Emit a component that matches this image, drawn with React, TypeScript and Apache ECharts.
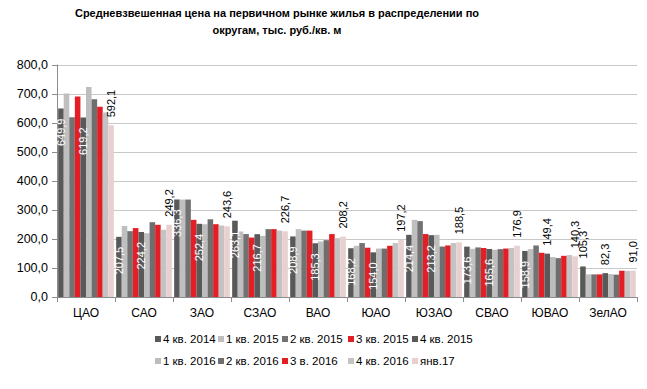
import React, { useEffect, useRef } from "react";
import * as echarts from "echarts";

const categories = ["ЦАО", "САО", "ЗАО", "СЗАО", "ВАО", "ЮАО", "ЮЗАО", "СВАО", "ЮВАО", "ЗелАО"];

const seriesNames = [
  "4 кв. 2014", "1 кв. 2015", "2 кв. 2015", "3 кв. 2015", "4 кв. 2015",
  "1 кв. 2016", "2 кв. 2016", "3 в. 2016", "4 кв. 2016", "янв.17",
];

const q4_2014 = [649.9, 207.5, 336.3, 263.1, 208.9, 168.2, 214.4, 173.6, 158.9, 105.3];
const q1_2015 = [702, 245, 336, 226, 234, 176.6, 266, 166, 165, 78];
const q2_2015 = [620, 227, 336, 217, 229, 186, 261.7, 171, 177.7, 78];
const q3_2015 = [691, 237.6, 266, 205, 229, 170, 217, 169, 152.5, 78];
const q4_2015 = [619.2, 224.2, 252.4, 216.7, 185.3, 154.0, 213.2, 165.6, 149.4, 82.3];
const q1_2016 = [724, 220, 251, 211, 191.5, 167, 214.5, 163, 137.7, 79];
const q2_2016 = [682, 258, 268, 234, 196, 167, 174, 165, 134, 77];
const q3_2016 = [656, 249, 251, 234, 217, 176.6, 177.7, 167, 142, 90.6];
const q4_2016 = [636, 231.7, 246.5, 229, 203, 186, 186, 169, 144.6, 90];
const jan_2017 = [592.1, 249.2, 243.6, 226.7, 208.2, 197.2, 188.5, 176.9, 140.3, 91.0];

const seriesValues = [q4_2014, q1_2015, q2_2015, q3_2015, q4_2015, q1_2016, q2_2016, q3_2016, q4_2016, jan_2017];

const colors = [
  "#595959", "#BFBFBF", "#727272", "#E31E24", "#595959",
  "#BDBDBD", "#6E6E6E", "#E31E24", "#C3C3C3", "#E8D0D0",
];

const yTicks = [0, 100, 200, 300, 400, 500, 600, 700, 800];

const labeledInside = [0, 4];
const labeledOutside = [9];

const FONT = "'Liberation Sans', Arial, sans-serif";
const fmt = (v: number) => v.toFixed(1).replace(".", ",");

const insideLabel = {
  show: true,
  position: "insideTop",
  rotate: 90,
  align: "right",
  verticalAlign: "middle",
  distance: 10,
  color: "#ffffff",
  fontSize: 11,
  fontFamily: FONT,
  formatter: (p: any) => fmt(p.value),
};

const outsideLabel = {
  show: true,
  position: "top",
  rotate: 90,
  align: "left",
  verticalAlign: "middle",
  distance: 8,
  color: "#000000",
  fontSize: 11,
  fontFamily: FONT,
  formatter: (p: any) => fmt(p.value),
};

function buildData(values: number[], idx: number) {
  if (labeledInside.includes(idx)) {
    return values.map((v) => ({ value: v, label: v >= 150 ? insideLabel : outsideLabel }));
  }
  if (labeledOutside.includes(idx)) {
    return values.map((v) => ({ value: v, label: outsideLabel }));
  }
  return values;
}

const colLefts = [155, 218, 282, 348, 412];
const rowTops = [333, 355];

export default function App() {
  const ref = useRef<HTMLDivElement>(null);
  useEffect(() => {
    if (!ref.current) return;
    const chart = echarts.init(ref.current, undefined, { renderer: "svg" });
    const legends = seriesNames.map((name, i) => ({
      data: [name],
      left: colLefts[i % 5],
      top: rowTops[Math.floor(i / 5)],
      padding: 0,
      itemWidth: 6,
      itemHeight: 6,
      itemGap: 0,
      icon: "rect",
      selectedMode: false,
      textStyle: { fontSize: 11.5, fontFamily: FONT, color: "#000", padding: [0, 0, 0, -3] },
    }));
    chart.setOption({
      animation: false,
      title: {
        text: "Средневзвешенная цена на первичном рынке жилья в распределении по\nокругам, тыс. руб./кв. м",
        left: 277,
        top: 5,
        padding: 0,
        textAlign: "center",
        textStyle: { fontSize: 11, fontWeight: "bold", fontFamily: FONT, color: "#000", lineHeight: 16.5 },
      },
      legend: legends,
      grid: { left: 57, right: 10, top: 65, bottom: 92, containLabel: false },
      xAxis: {
        type: "category",
        data: categories,
        axisLine: { lineStyle: { color: "#8c8c8c" } },
        axisTick: { show: true, length: 5, lineStyle: { color: "#8c8c8c" } },
        axisLabel: { fontSize: 12, fontFamily: FONT, color: "#000", margin: 10 },
      },
      yAxis: {
        type: "value",
        min: yTicks[0],
        max: yTicks[yTicks.length - 1],
        interval: 100,
        axisLine: { show: true, lineStyle: { color: "#8c8c8c" } },
        axisTick: { show: true, length: 5, lineStyle: { color: "#8c8c8c" } },
        splitLine: { lineStyle: { color: "#c8c8c8" } },
        axisLabel: { fontSize: 12.5, fontFamily: FONT, color: "#000", margin: 9, formatter: (v: number) => fmt(v) },
      },
      series: seriesValues.map((vals, i) => ({
        name: seriesNames[i],
        type: "bar",
        data: buildData(vals, i),
        itemStyle: { color: colors[i] },
        barGap: "0%",
        barCategoryGap: "4%",
      })),
    });
    return () => chart.dispose();
  }, []);
  return (
    <div
      ref={ref}
      style={{ position: "fixed", left: 0, top: 0, width: 647, height: 389, background: "#fff" }}
    />
  );
}
